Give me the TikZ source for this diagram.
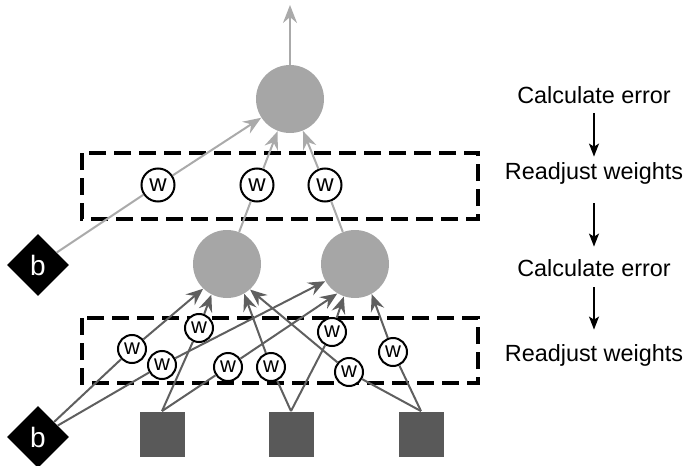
\documentclass[tikz,border=0pt]{standalone}
\usepackage{fontspec}
\setmainfont{Liberation Sans}
\usetikzlibrary{arrows.meta,shapes.geometric}
\definecolor{unitgray}{RGB}{166,166,166}
\definecolor{inputgray}{RGB}{89,89,89}
\definecolor{edgedark}{RGB}{95,95,95}
\definecolor{edgelight}{RGB}{170,170,170}
\tikzset{
  node-unit/.style={
    circle,
    fill=unitgray,
    minimum size=34pt,
    inner sep=0pt
  },
  node-input/.style={
    rectangle,
    fill=inputgray,
    minimum size=22.5pt,
    inner sep=0pt
  },
  node-bias/.style={
    diamond,
    fill=black,
    text=white,
    minimum size=31pt,
    inner sep=0pt,
    font=\fontsize{14}{14}\selectfont
  },
  weight-big/.style={
    circle,
    draw=black,
    fill=white,
    line width=1pt,
    minimum size=16.5pt,
    inner sep=0pt,
    font=\fontsize{12}{12}\selectfont
  },
  weight-small/.style={
    weight-big,
    minimum size=14pt,
    font=\fontsize{11}{11}\selectfont
  },
  edge-light/.style={
    draw=edgelight,
    line width=1pt,
    -{Stealth[length=9pt,width=7pt,inset=3pt]}
  },
  edge-dark/.style={
    draw=edgedark,
    line width=1pt,
    -{Stealth[length=8.5pt,width=7pt,inset=3pt]}
  },
  dashbox/.style={
    line width=2pt,
    dash pattern=on 8.5pt off 4pt
  },
  steplabel/.style={
    inner sep=0pt,
    text height=8.5pt,
    text depth=2.5pt,
    font=\fontsize{11.7}{14}\selectfont
  },
  flow/.style={
    line width=0.75pt,
    -{Stealth[length=6.5pt,width=5pt,inset=1.5pt]}
  }
}

\begin{document}
\begin{tikzpicture}[x=0.5pt,y=-0.5pt]
  \useasboundingbox (0,0) rectangle (686,466);
  % weight layers
  \draw[dashbox] (82,153) rectangle (478,219);
  \draw[dashbox] (82,318) rectangle (478,383);
  % units
  \node[node-unit] (o) at (290,99) {};
  \node[node-unit] (h1) at (227,264) {};
  \node[node-unit] (h2) at (355,264) {};
  \node[node-bias] (b1) at (38,265) {b};
  \node[node-bias] (b2) at (38,437) {b};
  \foreach \n/\x in {1/162,2/291,3/421} {
    \node[node-input] (in\n) at (\x,434) {};
  }
  \coordinate (top) at (290,5);
  \draw[edge-light] (o) -- (top);
  % output layer weights
  \foreach \src/\wx [count=\i] in {b1/158,h1/257,h2/325} {
    \node[weight-big] (wu\i) at (\wx,185) {w};
    \draw[edge-light] (\src) -- (wu\i) -- (o);
  }
  % hidden layer weights
  \foreach \src/\wx/\wy/\dst [count=\i] in {
      b2/132/349/h1.226, b2/162/365/h2.210,
      in1.north/199/328/h1.243, in1.north/228/367/h2.239,
      in2.north/271/367/h1.300, in2.north/332/332/h2.251,
      in3.north/349/372/h1.312, in3.north/393/352/h2.299} {
    \node[weight-small] (wl\i) at (\wx,\wy) {w};
    \draw[edge-dark] (\src) -- (wl\i) -- (\dst);
  }
  % steps
  \node[steplabel] (calc1) at (594,97) {Calculate error};
  \node[steplabel] (adj1) at (594,173) {Readjust weights};
  \node[steplabel] (calc2) at (594,270) {Calculate error};
  \node[steplabel] (adj2) at (594,355) {Readjust weights};
  \draw[flow, shorten <=2.5pt, shorten >=2.5pt] (calc1) -- (adj1);
  \draw[flow, shorten <=9.5pt, shorten >=6pt] (adj1) -- (calc2);
  \draw[flow, shorten <=3pt, shorten >=7pt] (calc2) -- (adj2);
\end{tikzpicture}
\end{document}
